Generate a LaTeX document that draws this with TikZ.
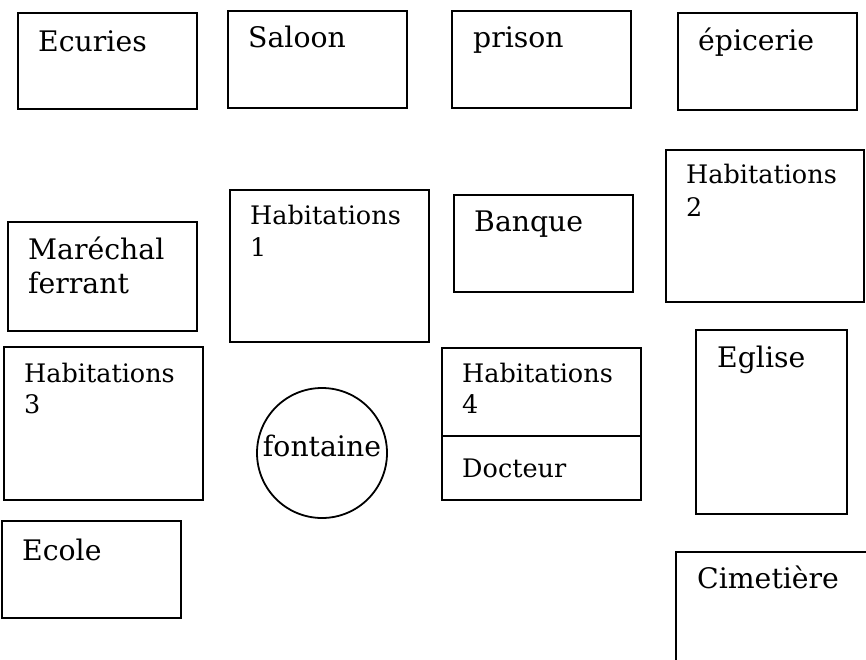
\documentclass[tikz,border=0pt]{standalone}
\usepackage{fontspec}
\setmainfont{DejaVu Serif}
\begin{document}
\begin{tikzpicture}[x=1pt,y=-1pt,
  box/.style={draw, line width=2pt, rectangle, inner sep=0pt, anchor=north west},
  big/.style={font=\fontsize{28.3}{33}\selectfont, inner sep=0pt, anchor=base west},
  small/.style={font=\fontsize{25.5}{30}\selectfont, inner sep=0pt, anchor=base west}]
\useasboundingbox (0,0) rectangle (866,660);
\clip (0,0) rectangle (866,660);
% boxes
\node[box, minimum width=179pt, minimum height=96pt] (ecuries) at (17,12) {};
\node[box, minimum width=179pt, minimum height=97pt] (saloon) at (227,10) {};
\node[box, minimum width=179pt, minimum height=97pt] (prison) at (451,10) {};
\node[box, minimum width=179pt, minimum height=97pt] (epicerie) at (677,12) {};
\node[box, minimum width=198pt, minimum height=152pt] (hab2) at (665,149) {};
\node[box, minimum width=179pt, minimum height=97pt] (banque) at (453,194) {};
\node[box, minimum width=199pt, minimum height=152pt] (hab1) at (229,189) {};
\node[box, minimum width=189pt, minimum height=109pt] (marechal) at (7,221) {};
\node[box, minimum width=199pt, minimum height=153pt] (hab3) at (3,346) {};
\node[draw, line width=1.8pt, circle, minimum size=130pt, inner sep=0pt] (fontaine) at (322,453) {};
\node[box, minimum width=199pt, minimum height=152pt] (hab4) at (441,347) {};
\coordinate (divL) at (441,436);
\coordinate (divR) at (642,436);
\draw[line width=2pt] (divL) -- (divR);
\node[box, minimum width=151pt, minimum height=184pt] (eglise) at (695,329) {};
\node[box, minimum width=179pt, minimum height=97pt] (ecole) at (1,520) {};
\node[box, minimum width=220pt, minimum height=140pt] (cimetiere) at (675,551) {};
% labels
\node[big] (tEcuries) at (38,52) {Ecuries};
\node[big] (tSaloon) at (248,48) {Saloon};
\node[big] (tPrison) at (473,48) {prison};
\node[big] (tEpicerie) at (698,51) {épicerie};
\node[small] (tHab2a) at (686,184) {Habitations};
\node[small] (tHab2b) at (686,216) {2};
\node[big] (tBanque) at (474,232) {Banque};
\node[small] (tHab1a) at (250,224) {Habitations};
\node[small] (tHab1b) at (250,256) {1};
\node[big] (tMarA) at (28,259) {Maréchal};
\node[big] (tMarB) at (28,293) {ferrant};
\node[small] (tHab3a) at (24,382) {Habitations};
\node[small] (tHab3b) at (24,413) {3};
\node[big, anchor=base] (tFontaine) at (322,456) {fontaine};
\node[small] (tHab4a) at (462,382) {Habitations};
\node[small] (tHab4b) at (462,413) {4};
\node[small] (tDocteur) at (462,477) {Docteur};
\node[big] (tEglise) at (717,367) {Eglise};
\node[big] (tEcole) at (22,560) {Ecole};
\node[big] (tCimetiere) at (697,588) {Cimetière};
\end{tikzpicture}
\end{document}
